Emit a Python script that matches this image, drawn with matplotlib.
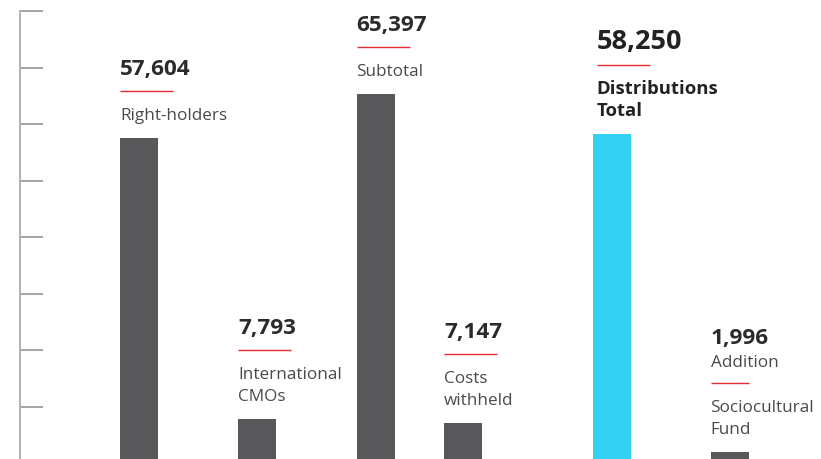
import matplotlib
matplotlib.use("Agg")
import matplotlib.pyplot as plt
from matplotlib.transforms import offset_copy

# ---- data ----
categories = ["Right-holders", "International\nCMOs", "Subtotal", "Costs\nwithheld",
              "Distributions\nTotal", "Sociocultural\nFund"]
values = [57604, 7793, 65397, 7147, 58250, 1996]
value_labels = ["57,604", "7,793", "65,397", "7,147", "58,250", "1,996"]
prefix_labels = ["", "", "", "", "", "Addition"]
highlight = [False, False, False, False, True, False]

# ---- layout (pixel-like data units on x) ----
centers = [139, 257, 375.5, 463, 611.5, 729.5]
bar_w = 38
text_dx = [0, 0, 0, 0, 4, 0]
rule_len = [53, 53, 53, 53, 53, 38]

W, H = 821, 460
fig = plt.figure(figsize=(W / 100, H / 100), dpi=100)
ax = fig.add_axes([20 / W, -4 / H, (W - 20) / W, 452 / H])
ax.set_xlim(20, W)
ax.set_ylim(0, 80000)

FONT = "Open Sans"
GRAY = "#58585a"
CYAN = "#33d1f3"
RED = "#e52d33"

colors = [CYAN if h else GRAY for h in highlight]
ax.bar(centers, values, width=bar_w, color=colors, zorder=2)

for spine in ["top", "right", "bottom"]:
    ax.spines[spine].set_visible(False)
ax.spines["left"].set_color("#b4b4b4")
ax.spines["left"].set_linewidth(1.44)
ax.set_xticks([])
ax.set_yticks(range(0, 80001, 10000))
ax.tick_params(axis="y", direction="in", length=16.6, width=1.08,
               color="#8a8a8a", labelleft=False)

for i, (c, v) in enumerate(zip(centers, values)):
    x0 = c - bar_w / 2 + text_dx[i]
    lines = categories[i].split("\n")
    hl = highlight[i]
    y = 19
    # labels below rule (bottom-up)
    for ln in reversed(lines):
        ax.annotate(ln, xy=(x0, v), xytext=(0, y), textcoords="offset pixels",
                    ha="left", va="baseline", family=FONT,
                    fontsize=13.3 if hl else 12.3,
                    fontweight="bold" if hl else "normal",
                    color="#222222" if hl else "#4a4a4a")
        y += 21.5
    y -= 21.5
    rule_y = y + 28
    tr = offset_copy(ax.transData, fig=fig, x=0, y=rule_y, units="dots")
    ax.plot([x0, x0 + rule_len[i]], [v, v], color=RED, lw=1.0,
            transform=tr, clip_on=False, solid_capstyle="butt")
    y = rule_y + 17
    if prefix_labels[i]:
        ax.annotate(prefix_labels[i], xy=(x0, v), xytext=(0, y),
                    textcoords="offset pixels", ha="left", va="baseline",
                    family=FONT, fontsize=12.3, color="#4a4a4a")
        y += 23
    ax.annotate(value_labels[i], xy=(x0, v), xytext=(0, y),
                textcoords="offset pixels", ha="left", va="baseline",
                family=FONT, fontsize=19.5 if hl else 16.2, fontweight="bold",
                color="#222222" if hl else "#2b2b2b")

fig.savefig("out.png", dpi=100)
